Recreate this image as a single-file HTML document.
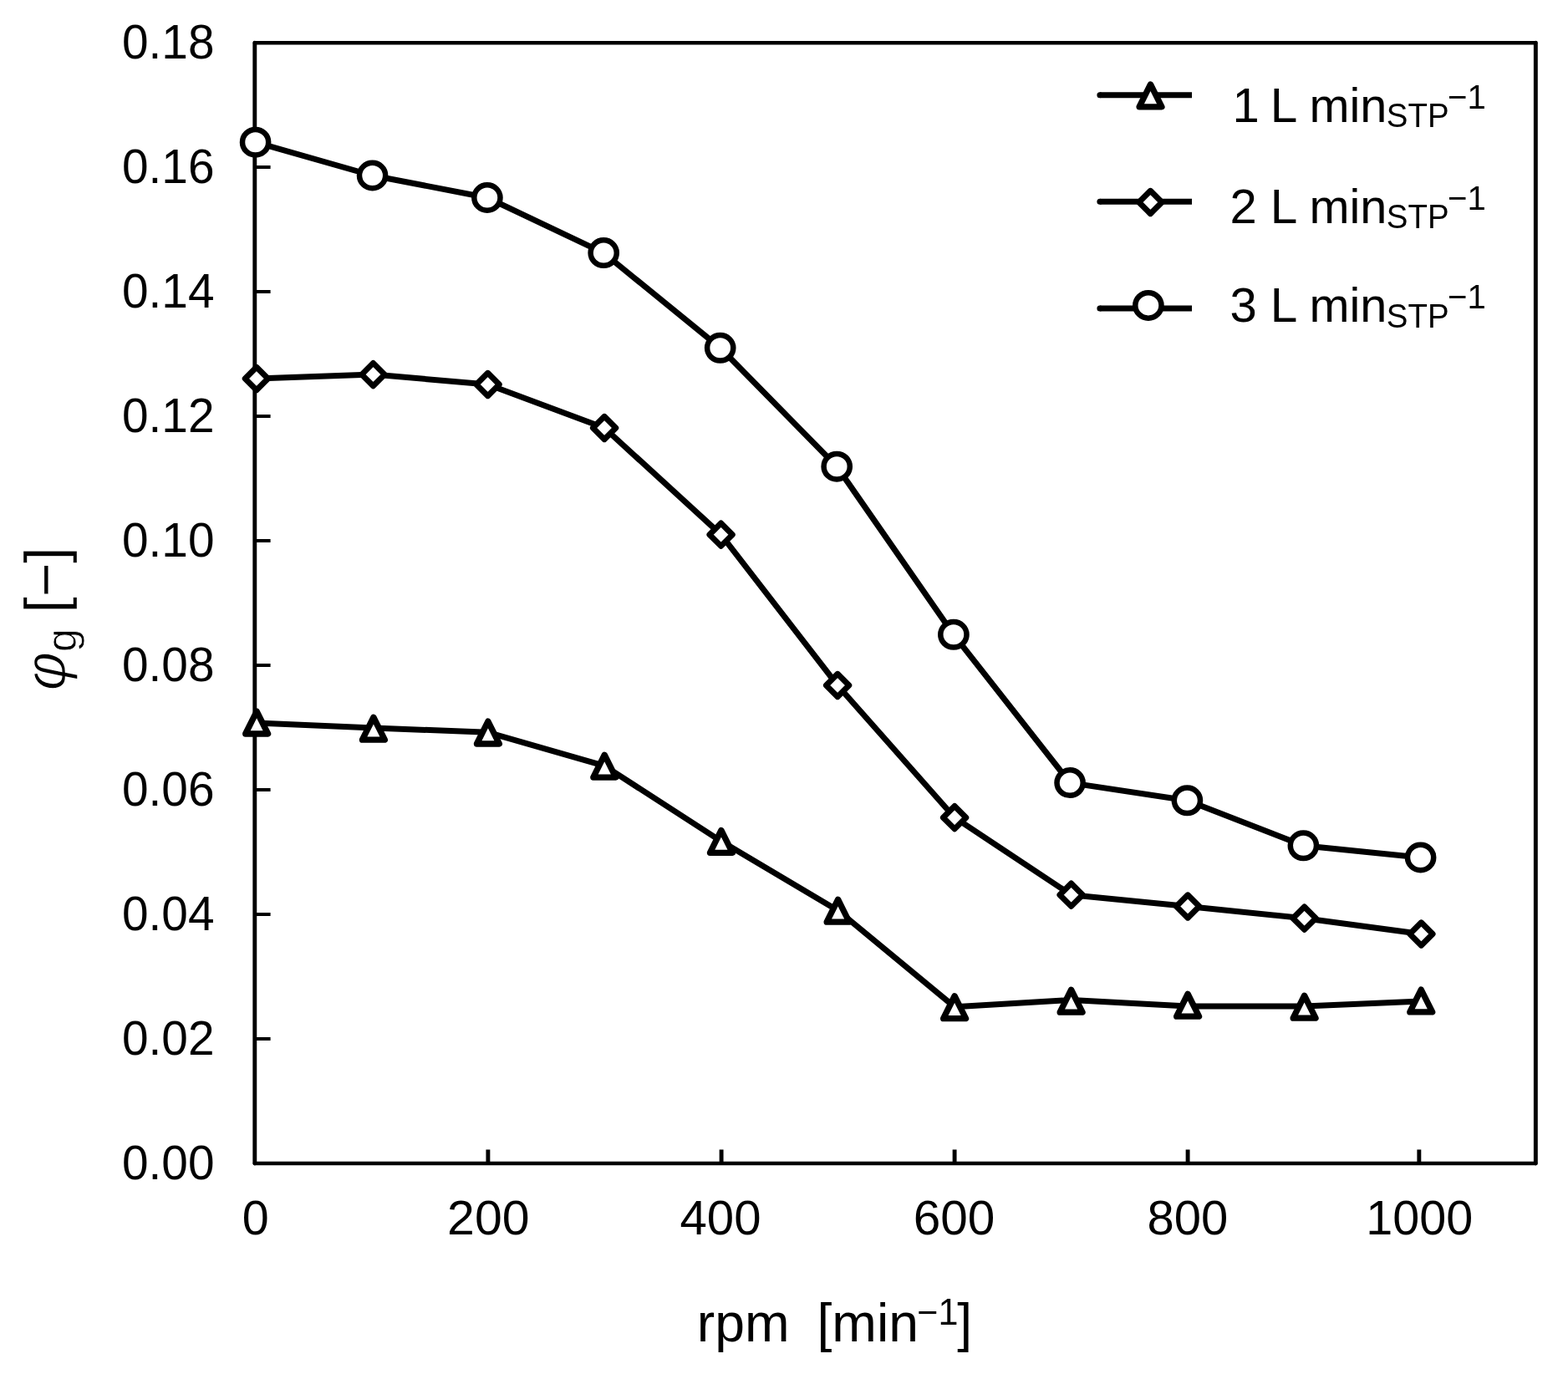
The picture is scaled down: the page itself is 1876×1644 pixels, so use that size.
<!DOCTYPE html>
<html lang="en">
<head>
<meta charset="utf-8">
<title>Gas holdup vs. stirrer speed</title>
<style>
html,body{margin:0;padding:0;background:#fff;}
body{width:1876px;height:1644px;overflow:hidden;}
svg{display:block;}
</style>
</head>
<body>
<svg width="1876" height="1644" viewBox="0 0 1876 1644" font-family="'Liberation Sans', sans-serif" fill="#000" role="img" aria-label="Gas holdup versus stirrer speed for three gas flow rates">
<rect x="0" y="0" width="1876" height="1644" fill="#fff"/>
<g id="chart">
<g id="axes" fill="none" stroke="#000">
<path d="M304.8 51.3H1837.35M304.8 1392.1H1837.35" stroke-width="4.5" stroke-linecap="round"/>
<path d="M304.8 51.3V1392.1M1837.35 51.3V1392.1" stroke-width="4.9" stroke-linecap="round"/>
<path d="M304.8 1242.95h18.8M304.8 1093.95h18.8M304.8 944.95h18.8M304.8 795.95h18.8M304.8 646.95h18.8M304.8 497.95h18.8M304.8 348.95h18.8M304.8 199.95h18.8" stroke-width="4.1"/>
<path d="M583.90 1392.1v-16.6M863.10 1392.1v-16.6M1142.10 1392.1v-16.6M1421.10 1392.1v-16.6M1697.85 1392.1v-16.6" stroke-width="4.9"/>
</g>
<g id="s1">
<polyline points="307.15,865.00 446.90,871.00 583.90,876.30 723.26,916.40 862.90,1006.60 1002.60,1089.40 1142.10,1204.80 1281.60,1196.50 1421.10,1203.90 1560.60,1203.90 1700.25,1198.00" fill="none" stroke="#000" stroke-width="7.0" stroke-linejoin="round"/>
<g fill="#fff" stroke="#000" stroke-width="7.3" stroke-linejoin="round"><path d="M307.15 851.10l13.45 26.9h-26.9z"/><path d="M446.90 858.25l13.45 26.9h-26.9z"/><path d="M583.90 863.10l13.45 26.9h-26.9z"/><path d="M723.26 903.20l13.45 26.9h-26.9z"/><path d="M862.90 993.45l13.45 26.9h-26.9z"/><path d="M1002.60 1076.25l13.45 26.9h-26.9z"/><path d="M1142.10 1191.75l13.45 26.9h-26.9z"/><path d="M1281.60 1184.25l13.45 26.9h-26.9z"/><path d="M1421.10 1189.25l13.45 26.9h-26.9z"/><path d="M1560.60 1191.25l13.45 26.9h-26.9z"/><path d="M1700.25 1184.05l13.45 26.9h-26.9z"/></g>
</g>
<g id="s2">
<polyline points="306.90,453.00 446.50,448.10 583.60,460.00 723.10,512.00 862.60,639.70 1002.10,820.00 1142.10,978.20 1281.60,1070.70 1421.10,1084.50 1560.60,1098.70 1700.40,1117.50" fill="none" stroke="#000" stroke-width="7.0" stroke-linejoin="round"/>
<g fill="#fff" stroke="#000" stroke-width="6.9" stroke-linejoin="round"><path d="M306.90 439.30l13.7 13.7l-13.7 13.7l-13.7 -13.7z"/><path d="M446.50 434.40l13.7 13.7l-13.7 13.7l-13.7 -13.7z"/><path d="M583.60 446.30l13.7 13.7l-13.7 13.7l-13.7 -13.7z"/><path d="M723.10 498.30l13.7 13.7l-13.7 13.7l-13.7 -13.7z"/><path d="M862.60 626.00l13.7 13.7l-13.7 13.7l-13.7 -13.7z"/><path d="M1002.10 806.30l13.7 13.7l-13.7 13.7l-13.7 -13.7z"/><path d="M1142.10 964.50l13.7 13.7l-13.7 13.7l-13.7 -13.7z"/><path d="M1281.60 1057.00l13.7 13.7l-13.7 13.7l-13.7 -13.7z"/><path d="M1421.10 1070.80l13.7 13.7l-13.7 13.7l-13.7 -13.7z"/><path d="M1560.60 1085.00l13.7 13.7l-13.7 13.7l-13.7 -13.7z"/><path d="M1700.40 1103.80l13.7 13.7l-13.7 13.7l-13.7 -13.7z"/></g>
</g>
<g id="s3">
<polyline points="305.60,170.20 445.60,210.00 582.90,236.50 722.20,302.60 861.70,416.30 1001.20,558.20 1140.90,759.30 1280.10,936.60 1420.40,957.80 1559.40,1011.80 1699.60,1026.00" fill="none" stroke="#000" stroke-width="7.0" stroke-linejoin="round"/>
<g fill="#fff" stroke="#000" stroke-width="6.5" stroke-linejoin="round"><ellipse cx="305.60" cy="170.20" rx="15.6" ry="15.25"/><ellipse cx="445.60" cy="210.00" rx="15.6" ry="15.25"/><ellipse cx="582.90" cy="236.50" rx="15.6" ry="15.25"/><ellipse cx="722.20" cy="302.60" rx="15.6" ry="15.25"/><ellipse cx="861.70" cy="416.30" rx="15.6" ry="15.25"/><ellipse cx="1001.20" cy="558.20" rx="15.6" ry="15.25"/><ellipse cx="1140.90" cy="759.30" rx="15.6" ry="15.25"/><ellipse cx="1280.10" cy="936.60" rx="15.6" ry="15.25"/><ellipse cx="1420.40" cy="957.80" rx="15.6" ry="15.25"/><ellipse cx="1559.40" cy="1011.80" rx="15.6" ry="15.25"/><ellipse cx="1699.60" cy="1026.00" rx="15.6" ry="15.25"/></g>
</g>
<g id="ticklabels">
<text transform="translate(256.50 1410.65) scale(0.988 1)" font-size="57.5" text-anchor="end">0.00</text>
<text transform="translate(256.50 1261.65) scale(0.988 1)" font-size="57.5" text-anchor="end">0.02</text>
<text transform="translate(256.50 1112.65) scale(0.988 1)" font-size="57.5" text-anchor="end">0.04</text>
<text transform="translate(256.50 963.65) scale(0.988 1)" font-size="57.5" text-anchor="end">0.06</text>
<text transform="translate(256.50 814.65) scale(0.988 1)" font-size="57.5" text-anchor="end">0.08</text>
<text transform="translate(256.50 665.65) scale(0.988 1)" font-size="57.5" text-anchor="end">0.10</text>
<text transform="translate(256.50 516.65) scale(0.988 1)" font-size="57.5" text-anchor="end">0.12</text>
<text transform="translate(256.50 367.65) scale(0.988 1)" font-size="57.5" text-anchor="end">0.14</text>
<text transform="translate(256.50 218.65) scale(0.988 1)" font-size="57.5" text-anchor="end">0.16</text>
<text transform="translate(256.50 69.65) scale(0.988 1)" font-size="57.5" text-anchor="end">0.18</text>
<text transform="translate(305.85 1477.20)" font-size="57.5" text-anchor="middle">0</text>
<text transform="translate(584.30 1477.20) scale(1.026 1)" font-size="57.5" text-anchor="middle">200</text>
<text transform="translate(862.00 1477.20) scale(1.011 1)" font-size="57.5" text-anchor="middle">400</text>
<text transform="translate(1141.50 1477.20) scale(1.018 1)" font-size="57.5" text-anchor="middle">600</text>
<text transform="translate(1420.80 1477.20) scale(1.009 1)" font-size="57.5" text-anchor="middle">800</text>
<text transform="translate(1698.20 1477.20)" font-size="57.5" text-anchor="middle">1000</text>
</g>
<g id="xtitle">
<text transform="translate(833.80 1604.60) scale(0.99 1)" font-size="65">rpm</text>
<text transform="translate(977.50 1604.60) scale(0.99 1)" font-size="65">[min</text>
<text transform="translate(1097.30 1585.40) scale(0.99 1)" font-size="43.5">−1</text>
<text transform="translate(1145.30 1604.60) scale(0.99 1)" font-size="65">]</text>
</g>
<g id="ytitle">
<text transform="translate(77.50 826.50) rotate(-90) scale(1.03 1)" font-size="69.5" font-style="italic" stroke="#fff" stroke-width="1.4">φ</text>
<text transform="translate(91.30 780.00) rotate(-90)" font-size="50" stroke="#fff" stroke-width="0.7">g</text>
<text transform="translate(77.90 733.50) rotate(-90) scale(1.01 1)" font-size="68.7" stroke="#fff" stroke-width="0.3">[−]</text>
</g>
<g id="legend">
<path d="M1315.90 113.7H1426.0" fill="none" stroke="#000" stroke-width="7.0" stroke-linejoin="round"/><circle cx="1315.90" cy="113.7" r="3.50"/>
<g fill="#fff" stroke="#000" stroke-width="7.3" stroke-linejoin="round"><path d="M1376.50 100.95l13.45 26.9h-26.9z"/></g>
<text transform="translate(1474.50 145.80)" font-size="58">1</text>
<text transform="translate(1519.70 145.80) scale(1.01 1)" font-size="58">L</text>
<text transform="translate(1566.40 145.80) scale(0.995 1)" font-size="58">min</text>
<text transform="translate(1658.75 152.40) scale(0.95 1)" font-size="40.5">STP</text>
<text transform="translate(1732.10 129.80) scale(0.98 1)" font-size="41">−1</text>
<path d="M1315.90 241.3H1426.0" fill="none" stroke="#000" stroke-width="7.0" stroke-linejoin="round"/><circle cx="1315.90" cy="241.3" r="3.50"/>
<g fill="#fff" stroke="#000" stroke-width="6.9" stroke-linejoin="round"><path d="M1376.40 228.30l13.7 13.7l-13.7 13.7l-13.7 -13.7z"/></g>
<text transform="translate(1471.50 266.50)" font-size="58">2</text>
<text transform="translate(1519.70 266.50) scale(1.01 1)" font-size="58">L</text>
<text transform="translate(1566.40 266.50) scale(0.995 1)" font-size="58">min</text>
<text transform="translate(1658.75 273.10) scale(0.95 1)" font-size="40.5">STP</text>
<text transform="translate(1732.10 250.50) scale(0.98 1)" font-size="41">−1</text>
<path d="M1315.90 369.05H1426.0" fill="none" stroke="#000" stroke-width="7.0" stroke-linejoin="round"/><circle cx="1315.90" cy="369.05" r="3.50"/>
<g fill="#fff" stroke="#000" stroke-width="6.5" stroke-linejoin="round"><ellipse cx="1373.90" cy="365.40" rx="15.6" ry="15.25"/></g>
<text transform="translate(1471.50 384.90)" font-size="58">3</text>
<text transform="translate(1519.70 384.90) scale(1.01 1)" font-size="58">L</text>
<text transform="translate(1566.40 384.90) scale(0.995 1)" font-size="58">min</text>
<text transform="translate(1658.75 391.50) scale(0.95 1)" font-size="40.5">STP</text>
<text transform="translate(1732.10 368.90) scale(0.98 1)" font-size="41">−1</text>
</g>
</g>
</svg>
</body>
</html>
